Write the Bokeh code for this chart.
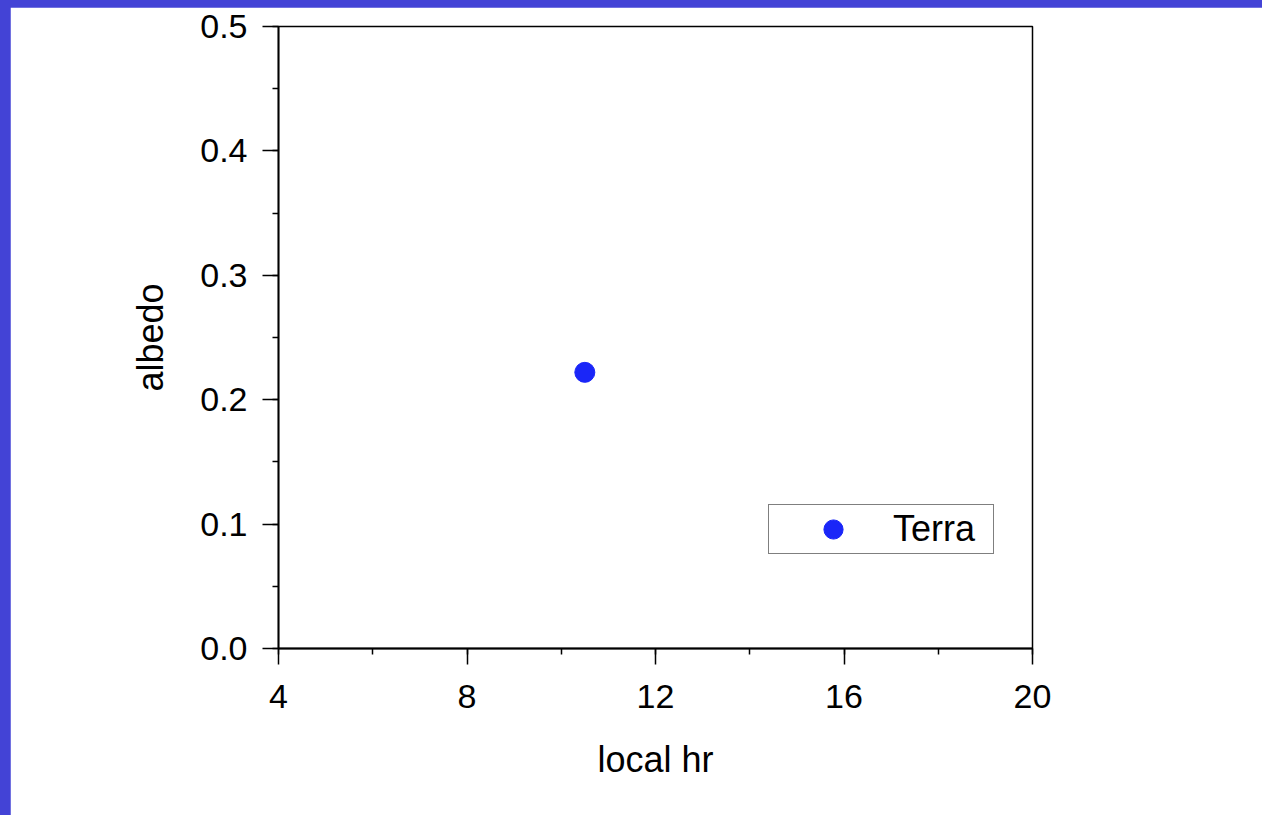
from bokeh.plotting import figure
from bokeh.models import Range1d, SingleIntervalTicker, PrintfTickFormatter, Legend, LegendItem, ColumnDataSource
from bokeh.layouts import column
from bokeh.embed import file_html
from bokeh.resources import INLINE

# data
series_name = "Terra"
local_hr = [10.5]
albedo = [0.222]

x_ticks_interval = 4
y_ticks_interval = 0.1

BLUE_FRAME = "#4343d6"
POINT_COLOR = "#1a26f8"
FONT = "Liberation Sans"

p = figure(width=1252, height=808, output_backend="svg", toolbar_location=None,
           x_range=Range1d(4, 20), y_range=Range1d(0, 0.5),
           min_border_left=268, min_border_right=230, min_border_top=19, min_border_bottom=167)
p.background_fill_color = "white"
p.border_fill_color = "white"
p.grid.visible = False
p.outline_line_color = "black"
p.outline_line_width = 1.5

src = ColumnDataSource(dict(x=local_hr, y=albedo))
r = p.scatter("x", "y", source=src, size=20, fill_color=POINT_COLOR, line_color=POINT_COLOR)

p.xaxis.ticker = SingleIntervalTicker(interval=x_ticks_interval, num_minor_ticks=2)
p.yaxis.ticker = SingleIntervalTicker(interval=y_ticks_interval, num_minor_ticks=2)
p.xaxis.formatter = PrintfTickFormatter(format="%d")
p.yaxis.formatter = PrintfTickFormatter(format="%.1f")

for ax in (p.xaxis[0], p.yaxis[0]):
    ax.axis_line_color = "black"
    ax.axis_line_width = 1.8
    ax.major_tick_line_color = "black"
    ax.major_tick_line_width = 1.5
    ax.minor_tick_line_color = "black"
    ax.minor_tick_line_width = 1.5
    ax.major_tick_out = 16
    ax.major_tick_in = 0
    ax.minor_tick_out = 6
    ax.minor_tick_in = 0
    ax.major_label_text_font = FONT
    ax.major_label_text_font_size = "34px"
    ax.major_label_text_color = "black"
    ax.axis_label_text_font = FONT
    ax.axis_label_text_font_size = "36px"
    ax.axis_label_text_font_style = "normal"
    ax.axis_label_text_color = "black"

p.xaxis.axis_label = "local hr"
p.yaxis.axis_label = "albedo"
p.xaxis.major_label_standoff = 20
p.yaxis.major_label_standoff = 15
p.xaxis.axis_label_standoff = 28
p.yaxis.axis_label_standoff = 26

legend = Legend(items=[LegendItem(label=series_name, renderers=[r])],
                location=(490, 94), padding=dict(left=10, right=10, top=0, bottom=0),
                glyph_width=108, glyph_height=48,
                label_standoff=6, label_width=90, label_height=48,
                label_text_font=FONT, label_text_font_size="36px", label_text_color="black",
                border_line_color="black", border_line_width=1.5,
                background_fill_color="white", background_fill_alpha=1.0)
p.add_layout(legend, "center")

layout = column(p, width=1262, height=815,
                styles={"background-color": BLUE_FRAME, "padding-left": "10px", "padding-top": "7px",
                        "box-sizing": "border-box"})

open("out.html", "w").write(file_html(layout, INLINE))
